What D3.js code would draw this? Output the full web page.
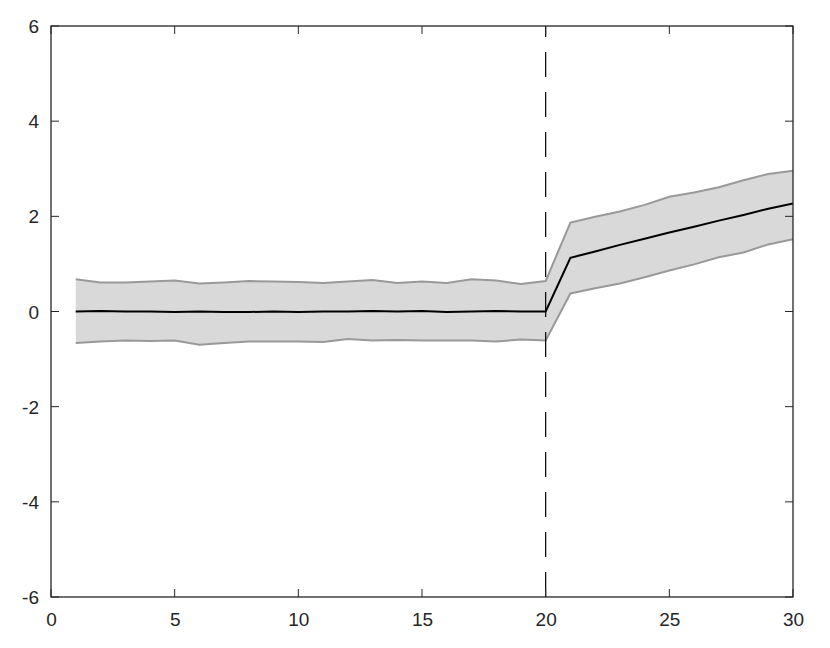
<!DOCTYPE html>
<html>
<head>
<meta charset="utf-8">
<script src="https://cdn.jsdelivr.net/npm/d3@7"></script>
<style>
  html, body { margin: 0; padding: 0; background: #fff; }
  svg { display: block; }
</style>
</head>
<body>
<svg id="chart" width="830" height="648"></svg>
<script>
const xValues = [1,2,3,4,5,6,7,8,9,10,11,12,13,14,15,16,17,18,19,20,21,22,23,24,25,26,27,28,29,30];
const meanValues = [0.00,0.01,0.00,0.00,-0.01,0.00,-0.01,-0.01,0.00,-0.01,0.00,0.00,0.01,0.00,0.01,-0.01,0.00,0.01,0.00,0.00,1.13,1.26,1.40,1.53,1.66,1.78,1.91,2.03,2.16,2.27];
const upperValues = [0.68,0.61,0.61,0.63,0.65,0.59,0.61,0.64,0.63,0.62,0.60,0.63,0.66,0.60,0.63,0.60,0.68,0.65,0.58,0.64,1.87,1.99,2.10,2.24,2.41,2.50,2.61,2.76,2.89,2.96];
const lowerValues = [-0.66,-0.63,-0.61,-0.62,-0.61,-0.70,-0.66,-0.63,-0.63,-0.63,-0.64,-0.58,-0.61,-0.60,-0.61,-0.61,-0.61,-0.63,-0.59,-0.61,0.38,0.49,0.59,0.72,0.86,0.99,1.14,1.24,1.41,1.52];
const xTicks = [0,5,10,15,20,25,30];
const yTicks = [-6,-4,-2,0,2,4,6];
const breakX = 20;

const svg = d3.select("#chart");
const L = 51, R = 793, T = 26, B = 597;
const x = d3.scaleLinear().domain([0,30]).range([L,R]);
const y = d3.scaleLinear().domain([-6,6]).range([B,T]);
const axisColor = "#262626";
const fontFam = "'Liberation Sans', Arial, Helvetica, sans-serif";
const fontSize = 19;

const data = xValues.map((v,i)=>({x:v, m:meanValues[i], u:upperValues[i], l:lowerValues[i]}));

// band
svg.append("path")
  .datum(data)
  .attr("d", d3.area().x(d=>x(d.x)).y0(d=>y(d.l)).y1(d=>y(d.u)))
  .attr("fill", "#d9d9d9").attr("stroke", "none");
svg.append("path").datum(data)
  .attr("d", d3.line().x(d=>x(d.x)).y(d=>y(d.u)))
  .attr("fill","none").attr("stroke","#999999").attr("stroke-width",2);
svg.append("path").datum(data)
  .attr("d", d3.line().x(d=>x(d.x)).y(d=>y(d.l)))
  .attr("fill","none").attr("stroke","#999999").attr("stroke-width",2);
// mean
svg.append("path").datum(data)
  .attr("d", d3.line().x(d=>x(d.x)).y(d=>y(d.m)))
  .attr("fill","none").attr("stroke","#000").attr("stroke-width",2);

// dashed vertical line (drawn bottom to top)
svg.append("line")
  .attr("x1", x(breakX)).attr("x2", x(breakX))
  .attr("y1", y(-6)).attr("y2", y(6))
  .attr("stroke", "#000").attr("stroke-width", 1.2)
  .attr("stroke-dasharray", "25,15");

// axes frame
const tickLen = 8;
const bottomAxis = d3.axisBottom(x).tickValues(xTicks).tickSize(0).tickPadding(0).tickFormat(d3.format("d"));
const leftAxis = d3.axisLeft(y).tickValues(yTicks).tickSize(0).tickPadding(0).tickFormat(d=> d<0 ? "-" + Math.abs(d) : String(d));

const gx = svg.append("g").attr("transform", `translate(0,${B})`).call(bottomAxis);
gx.select(".domain").remove();
gx.selectAll("text").attr("dy", 0).attr("y", 29)
  .attr("font-family", fontFam).attr("font-size", fontSize).attr("fill", axisColor);

const gy = svg.append("g").attr("transform", `translate(${L},0)`).call(leftAxis);
gy.select(".domain").remove();
gy.selectAll("text").attr("x", -12).attr("dy", "0.35em")
  .attr("font-family", fontFam).attr("font-size", fontSize).attr("fill", axisColor);

// ticks inward on all four sides
const tg = svg.append("g").attr("stroke", axisColor).attr("stroke-width", 1);
xTicks.forEach(t => {
  tg.append("line").attr("x1", x(t)).attr("x2", x(t)).attr("y1", B).attr("y2", B - tickLen);
  tg.append("line").attr("x1", x(t)).attr("x2", x(t)).attr("y1", T).attr("y2", T + tickLen);
});
yTicks.forEach(t => {
  tg.append("line").attr("x1", L).attr("x2", L + tickLen).attr("y1", y(t)).attr("y2", y(t));
  tg.append("line").attr("x1", R).attr("x2", R - tickLen).attr("y1", y(t)).attr("y2", y(t));
});

svg.append("rect")
  .attr("x", L).attr("y", T).attr("width", R - L).attr("height", B - T)
  .attr("fill", "none").attr("stroke", axisColor).attr("stroke-width", 1.3);
</script>
</body>
</html>
